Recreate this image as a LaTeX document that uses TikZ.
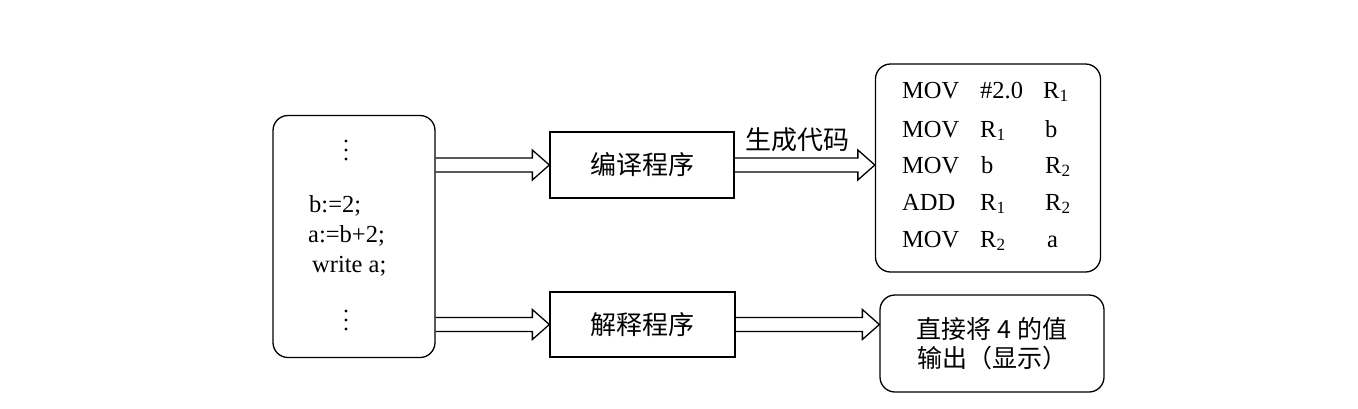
\documentclass[tikz,border=0pt]{standalone}
\usepackage{fontspec}
\setmainfont{Liberation Serif}
\newfontfamily\cjk{Noto Sans CJK SC}
\usetikzlibrary{calc}
\tikzset{
  frame/.style={draw, line width=1.3pt, inner sep=0pt},
  rbox/.style={frame, rounded corners=15pt},
  code/.style={inner sep=0pt, anchor=base west, font=\fontsize{24.5}{28}\selectfont},
  cjktext/.style={inner sep=0pt, font=\cjk\fontsize{26}{29}\selectfont},
  dotmark/.style={fill=black}
}
\newcommand\dblarrow[2]{%
  \draw[line width=1.3pt, line join=miter]
    ($(#1)+(0,-7)$) -- ($(#2)+(-17,-7)$) -- ($(#2)+(-17,-15)$) -- (#2)
    -- ($(#2)+(-17,15)$) -- ($(#2)+(-17,7)$) -- ($(#1)+(0,7)$);}
\newcommand\vdotsat[1]{%
  \fill[dotmark] ($(#1)+(0,-9)$) circle (1.7);
  \fill[dotmark] (#1) circle (1.7);
  \fill[dotmark] ($(#1)+(0,9)$) circle (1.7);}
\begin{document}
\begin{tikzpicture}[x=1pt,y=-1pt]
\useasboundingbox (0,0) rectangle (1358,408);
% boxes
\node[rbox, minimum width=162pt, minimum height=242pt] (src) at (354,236.5) {};
\node[frame, minimum width=184pt, minimum height=66pt, cjktext] (comp) at (642,165) {编译程序};
\node[frame, minimum width=185pt, minimum height=65pt, cjktext] (interp) at (642.5,324.5) {解释程序};
\node[rbox, minimum width=225pt, minimum height=208pt] (out1) at (988,168) {};
\node[rbox, minimum width=224pt, minimum height=97pt, cjktext, font=\cjk\fontsize{25}{29}\selectfont, align=center] (out2) at (992,343.5) {直接将 4 的值\\输出（显示）};
% source text
\coordinate (d1) at (346,150);
\coordinate (d2) at (346,320);
\vdotsat{d1}
\vdotsat{d2}
\node[code] (s1) at (309,212) {b:=2;};
\node[code] (s2) at (308,242) {a:=b+2;};
\node[code] (s3) at (312,272) {write a;};
% target code
\node[code] (r1a) at (902,98) {MOV};
\node[code] (r1b) at (980,98) {\#2.0};
\node[code] (r1c) at (1043,98) {R\textsubscript{1}};
\node[code] (r2a) at (902,137) {MOV};
\node[code] (r2b) at (980,137) {R\textsubscript{1}};
\node[code] (r2c) at (1045,137) {b};
\node[code] (r3a) at (902,173) {MOV};
\node[code] (r3b) at (981,173) {b};
\node[code] (r3c) at (1045,173) {R\textsubscript{2}};
\node[code] (r4a) at (902,210) {ADD};
\node[code] (r4b) at (980,210) {R\textsubscript{1}};
\node[code] (r4c) at (1045,210) {R\textsubscript{2}};
\node[code] (r5a) at (902,247) {MOV};
\node[code] (r5b) at (980,247) {R\textsubscript{2}};
\node[code] (r5c) at (1047,247) {a};
% arrows
\coordinate (a1s) at (src.east |- comp.west);
\coordinate (a2s) at (src.east |- interp.west);
\coordinate (a3e) at (out1.west |- comp.east);
\coordinate (a4e) at (out2.west |- interp.east);
\dblarrow{a1s}{comp.west}
\dblarrow{a2s}{interp.west}
\dblarrow{comp.east}{a3e}
\dblarrow{interp.east}{a4e}
\node[cjktext] (lab) at (797,140) {生成代码};
\end{tikzpicture}
\end{document}
